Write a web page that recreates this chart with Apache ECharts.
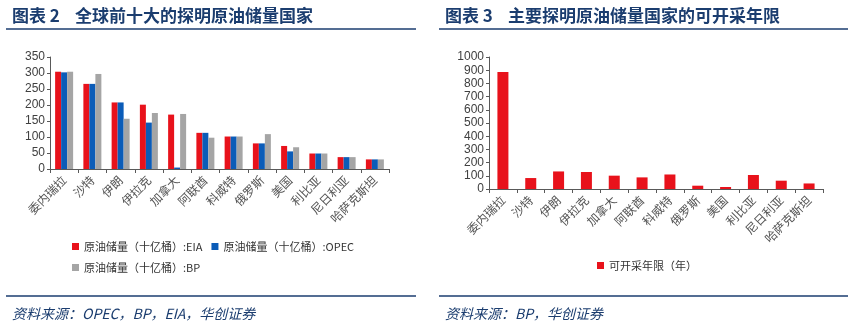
<!DOCTYPE html>
<html>
<head>
<meta charset="utf-8">
<script src="https://cdn.jsdelivr.net/npm/echarts@6/dist/echarts.min.js"></script>
<style>
  html, body { margin: 0; padding: 0; background: #fff; }
  #chart { width: 861px; height: 324px; }
</style>
</head>
<body>
<div id="chart"></div>
<script>
// Proven crude oil reserves by country (billion barrels), three sources
const countries = ['委内瑞拉', '沙特', '伊朗', '伊拉克', '加拿大', '阿联酋', '科威特', '俄罗斯', '美国', '利比亚', '尼日利亚', '哈萨克斯坦'];
const reservesEIA = [304, 266, 208, 201, 170, 113, 101.5, 80, 72, 48.4, 37.1, 30];
const reservesOPEC = [302, 266, 208, 145, 4.5, 113, 101.5, 80, 55, 48.4, 37.1, 30];
const reservesBP = [304, 297, 157, 175, 172, 97.8, 101.5, 109, 68, 48.4, 37.1, 30];

// Reserve-to-production ratio (years)
const yearsLeft = [886, 83, 133, 129, 101, 88, 110, 25, 15, 106, 63, 42];

const leftTicks = { min: 0, max: 350, interval: 50 };
const rightTicks = { min: 0, max: 1000, interval: 100 };

const RED = '#e8121b', BLUE = '#0b5cb8', GRAY = '#a5a5a5';
const NAVY = '#1b3d6f';
const CJK = '"Noto Sans CJK SC", sans-serif';
const NUM = '"Liberation Sans", Arial, sans-serif';

const chart = echarts.init(document.getElementById('chart'), null, { renderer: 'canvas' });

function catAxis(gridIndex) {
  return {
    type: 'category', gridIndex, data: countries,
    axisLine: { lineStyle: { color: '#595959', width: 1 } },
    axisTick: { show: true, alignWithLabel: false, length: 4, lineStyle: { color: '#595959' } },
    axisLabel: { rotate: 45, interval: 0, margin: 9, color: '#555', fontFamily: CJK, fontSize: 12 }
  };
}
function valAxis(gridIndex, t) {
  return {
    type: 'value', gridIndex, min: t.min, max: t.max, interval: t.interval,
    splitLine: { show: false },
    axisLine: { show: true, lineStyle: { color: '#595959', width: 1 } },
    axisTick: { show: true, length: 3, lineStyle: { color: '#595959' } },
    axisLabel: { color: '#404040', fontFamily: NUM, fontSize: 12, margin: 5,
      formatter: v => String(v) }
  };
}
const legendText = { color: '#333', fontFamily: CJK, fontSize: 11 };
const titleStyle = { color: NAVY, fontSize: 17, fontWeight: 'bold', fontFamily: CJK };
const footStyle = { color: NAVY, fontSize: 14, fontWeight: 'normal', fontStyle: 'italic', fontFamily: CJK };

chart.setOption({
  animation: false,
  textStyle: { fontFamily: CJK },
  title: [
    { text: '图表 2', left: 7, top: 2, textStyle: titleStyle },
    { text: '全球前十大的探明原油储量国家', left: 70, top: 2, textStyle: titleStyle },
    { text: '图表 3', left: 440, top: 2, textStyle: titleStyle },
    { text: '主要探明原油储量国家的可开采年限', left: 503, top: 2, textStyle: titleStyle },
    { text: '资料来源：OPEC，BP，EIA，华创证券', left: 7, top: 302, textStyle: footStyle },
    { text: '资料来源：BP，华创证券', left: 440, top: 302, textStyle: footStyle }
  ],
  graphic: [
    { type: 'line', shape: { x1: 6, y1: 29, x2: 416, y2: 29 }, style: { stroke: NAVY, lineWidth: 1.5 } },
    { type: 'line', shape: { x1: 439, y1: 29, x2: 848, y2: 29 }, style: { stroke: NAVY, lineWidth: 1.5 } },
    { type: 'line', shape: { x1: 6, y1: 296, x2: 416, y2: 296 }, style: { stroke: NAVY, lineWidth: 1.5 } },
    { type: 'line', shape: { x1: 439, y1: 296, x2: 848, y2: 296 }, style: { stroke: NAVY, lineWidth: 1.5 } }
  ],
  legend: [
    { data: ['原油储量（十亿桶）:EIA', '原油储量（十亿桶）:OPEC'], left: 67, top: 236,
      itemWidth: 7, itemHeight: 7, itemGap: 9, icon: 'rect', textStyle: legendText },
    { data: ['原油储量（十亿桶）:BP'], left: 67, top: 257,
      itemWidth: 7, itemHeight: 7, icon: 'rect', textStyle: legendText },
    { data: ['可开采年限（年）'], left: 592, top: 255,
      itemWidth: 7, itemHeight: 7, icon: 'rect', textStyle: legendText }
  ],
  grid: [
    { left: 50, top: 57, width: 339, height: 112, containLabel: false },
    { left: 489, top: 57, width: 334, height: 132, containLabel: false }
  ],
  xAxis: [catAxis(0), catAxis(1)],
  yAxis: [valAxis(0, leftTicks), valAxis(1, rightTicks)],
  series: [
    { name: '原油储量（十亿桶）:EIA', type: 'bar', xAxisIndex: 0, yAxisIndex: 0, data: reservesEIA,
      itemStyle: { color: RED }, barWidth: 6, barGap: '0%' },
    { name: '原油储量（十亿桶）:OPEC', type: 'bar', xAxisIndex: 0, yAxisIndex: 0, data: reservesOPEC,
      itemStyle: { color: BLUE }, barWidth: 6, barGap: '0%' },
    { name: '原油储量（十亿桶）:BP', type: 'bar', xAxisIndex: 0, yAxisIndex: 0, data: reservesBP,
      itemStyle: { color: GRAY }, barWidth: 6, barGap: '0%' },
    { name: '可开采年限（年）', type: 'bar', xAxisIndex: 1, yAxisIndex: 1, data: yearsLeft,
      itemStyle: { color: RED }, barWidth: 11 }
  ]
});
</script>
</body>
</html>
